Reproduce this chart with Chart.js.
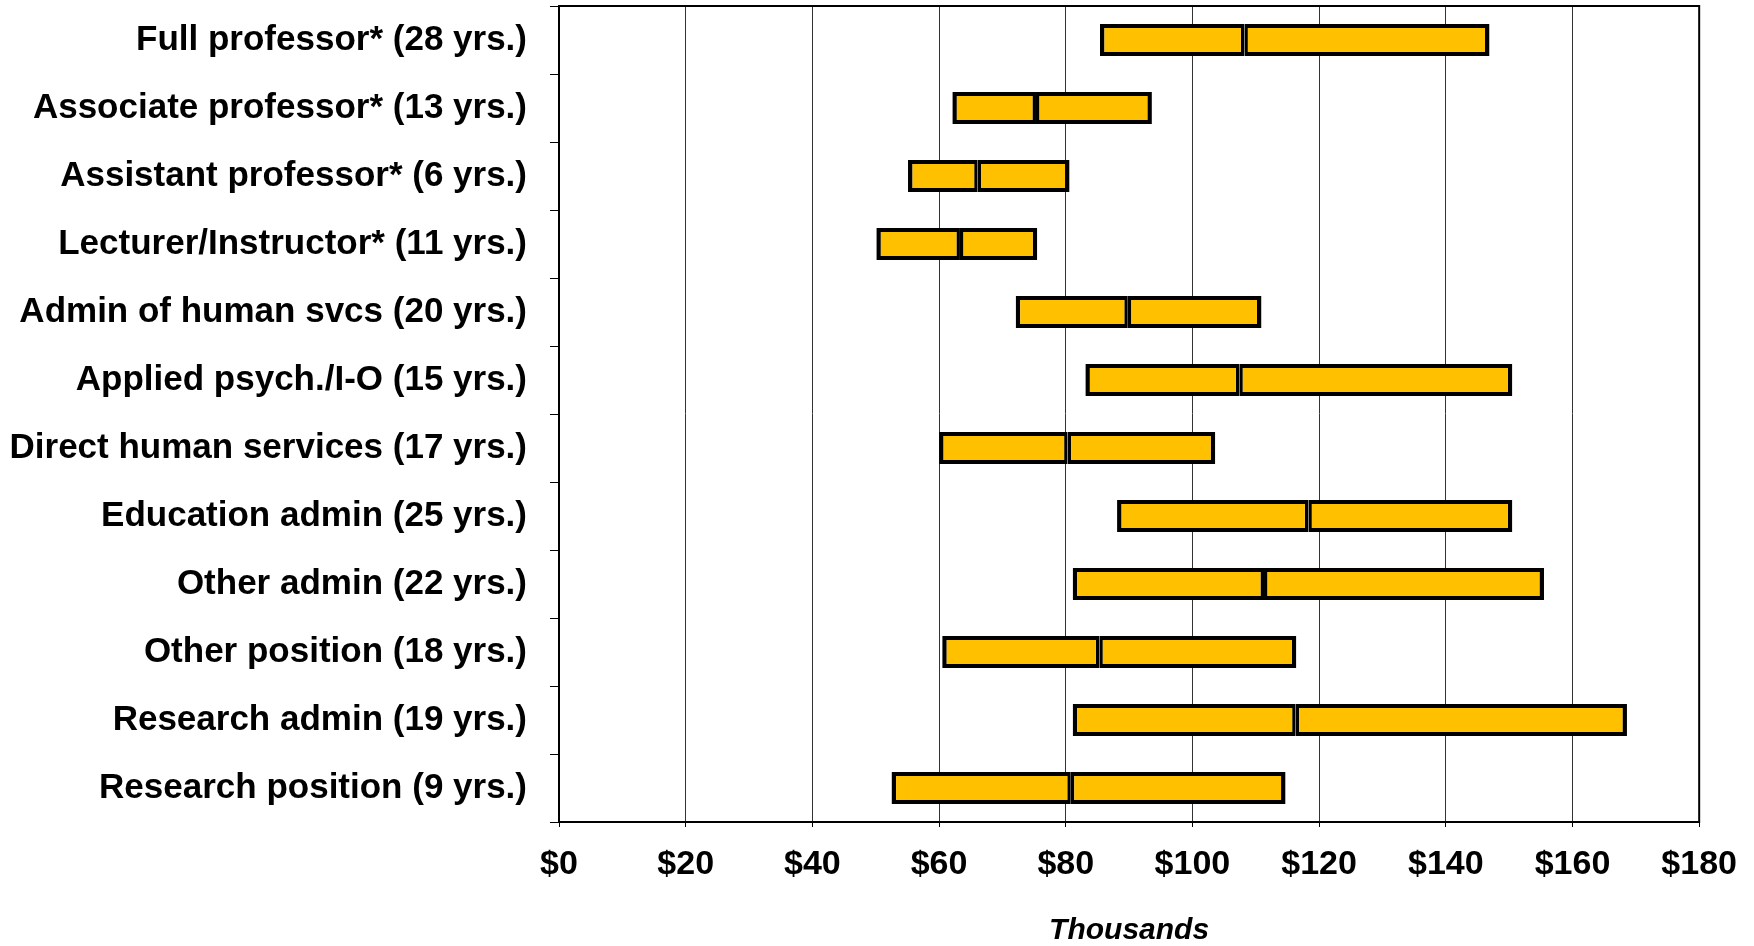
<!DOCTYPE html>
<html>
<head>
<meta charset="utf-8">
<script src="https://cdn.jsdelivr.net/npm/chart.js@4"></script>
<style>
  html, body { margin: 0; padding: 0; background: #fff; }
  #wrap { width: 1754px; height: 946px; position: relative; }
</style>
</head>
<body>
<div id="wrap"><canvas id="salaryChart"></canvas></div>
<script>
// Salary ranges by position (thousands of $)
const positions = [
    "Full professor* (28 yrs.)",
    "Associate professor* (13 yrs.)",
    "Assistant professor* (6 yrs.)",
    "Lecturer/Instructor* (11 yrs.)",
    "Admin of human svcs (20 yrs.)",
    "Applied psych./I-O (15 yrs.)",
    "Direct human services (17 yrs.)",
    "Education admin (25 yrs.)",
    "Other admin (22 yrs.)",
    "Other position (18 yrs.)",
    "Research admin (19 yrs.)",
    "Research position (9 yrs.)"
];
const lowQuartile = [85.4, 62.1, 55.1, 50.1, 72.1, 83.1, 60.0, 88.1, 81.1, 60.5, 81.1, 52.5];
const medianSalary = [108.2, 75.3, 66.1, 63.3, 89.8, 107.4, 80.3, 118.3, 111.3, 85.3, 116.3, 80.8];
const highQuartile = [146.9, 93.6, 80.6, 75.5, 110.9, 150.5, 103.6, 150.5, 155.5, 116.4, 168.6, 114.7];
const xTicks = [0, 20, 40, 60, 80, 100, 120, 140, 160, 180];

const lowerPart = positions.map((_, i) => [lowQuartile[i], medianSalary[i]]);
const upperPart = positions.map((_, i) => [medianSalary[i], highQuartile[i]]);

// moldura em volta da area do grafico
const frame = {
    id: "frame",
    afterDraw(chart) {
        const { ctx, chartArea } = chart;
        ctx.save();
        ctx.strokeStyle = "#000";
        ctx.lineWidth = 2;
        ctx.strokeRect(chartArea.left, chartArea.top, chartArea.right - chartArea.left, chartArea.bottom - chartArea.top);
        ctx.restore();
    }
};

const barStyle = {
    backgroundColor: "#FFC000",
    borderColor: "#000000",
    borderSkipped: false,
    inflateAmount: 0,
    grouped: false,
    barPercentage: 0.47,
    categoryPercentage: 1
};

const fontFamily = "'Liberation Sans', Arial, sans-serif";

new Chart(document.getElementById("salaryChart"), {
    type: "bar",
    plugins: [frame],
    data: {
        labels: positions,
        datasets: [
            Object.assign({ label: "Low to median", data: lowerPart,
                borderWidth: { top: 4, bottom: 4, left: 4.5, right: 3.5 } }, barStyle),
            Object.assign({ label: "Median to high", data: upperPart,
                borderWidth: { top: 4, bottom: 4, left: 3.5, right: 4.5 } }, barStyle)
        ]
    },
    options: {
        indexAxis: "y",
        responsive: true,
        maintainAspectRatio: false,
        animation: false,
        layout: { padding: { top: 6, right: 54, left: 0, bottom: 0 } },
        plugins: {
            legend: { display: false },
            tooltip: { enabled: false }
        },
        scales: {
            x: {
                type: "linear",
                min: 0,
                max: 180,
                afterBuildTicks: scale => { scale.ticks = xTicks.map(v => ({ value: v })); },
                afterFit: scale => { scale.height = 124; },
                ticks: {
                    color: "#000",
                    padding: 17,
                    font: { family: fontFamily, weight: "bold", size: 34 },
                    callback: v => "$" + v
                },
                grid: { color: "#333", lineWidth: 1, tickLength: 5, tickColor: "#000" },
                border: { color: "#000", width: 2 },
                title: {
                    display: true,
                    text: "Thousands",
                    color: "#000",
                    padding: { top: 0, bottom: 0 },
                    font: { family: fontFamily, weight: "bold", style: "italic", size: 30, lineHeight: 1 }
                }
            },
            y: {
                type: "category",
                afterFit: scale => {
                    scale.width = 559;
                    scale.paddingTop = 0;
                    scale.paddingBottom = 0;
                },
                ticks: {
                    color: "#000",
                    padding: 23,
                    autoSkip: false,
                    font: { family: fontFamily, weight: "bold", size: 35 }
                },
                grid: { drawOnChartArea: false, offset: true, tickLength: 9, color: "#000" },
                border: { color: "#000", width: 2 }
            }
        }
    }
});
</script>
</body>
</html>
